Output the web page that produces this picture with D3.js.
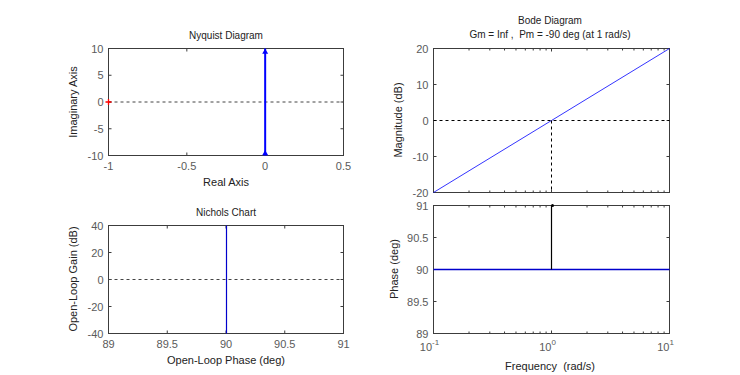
<!DOCTYPE html>
<html>
<head>
<meta charset="utf-8">
<script src="https://cdn.jsdelivr.net/npm/d3@7"></script>
<style>
body { margin: 0; background: #fff; }
text { font-family: "Liberation Sans", Arial, sans-serif; white-space: pre; }
</style>
</head>
<body>
<div id="chart"></div>
<script>
var W = 740, H = 375;

// data (G(s) = s)
var freq = [0.1, 0.2, 0.5, 1, 2, 5, 10];
var magDb = [-20, -13.98, -6.02, 0, 6.02, 13.98, 20];
var phaseDeg = [90, 90, 90, 90, 90, 90, 90];
var nyqRe = [0, 0, 0, 0, 0];
var nyqIm = [-10, -5, 0, 5, 10];
var nicPhase = [90, 90];
var nicGain = [-40, 40];
var crossFreq = 1, pmTop = 91;

var nyqXTicks = [-1, -0.5, 0, 0.5], nyqYTicks = [-10, -5, 0, 5, 10];
var nicXTicks = [89, 89.5, 90, 90.5, 91], nicYTicks = [-40, -20, 0, 20, 40];
var magTicks = [-20, -10, 0, 10, 20], phTicks = [89, 89.5, 90, 90.5, 91];

var blue = "#0000ff", axc = "#3c3c3c", tickc = "#5a5a5a";

var svg = d3.select("#chart").append("svg")
	.attr("width", W).attr("height", H);

function panel(x, y, xt, yt, opt) {
	var g = svg.append("g");
	var x0 = x.range()[0], x1 = x.range()[1], y0 = y.range()[0], y1 = y.range()[1];
	var tl = 3;
	// ticks inside, all four sides
	xt.forEach(function(t){
		g.append("line").attr("x1", x(t)).attr("x2", x(t)).attr("y1", y0).attr("y2", y0 - tl).attr("stroke", axc);
		g.append("line").attr("x1", x(t)).attr("x2", x(t)).attr("y1", y1).attr("y2", y1 + tl).attr("stroke", axc);
	});
	yt.forEach(function(t){
		g.append("line").attr("x1", x0).attr("x2", x0 + tl).attr("y1", y(t)).attr("y2", y(t)).attr("stroke", axc);
		g.append("line").attr("x1", x1).attr("x2", x1 - tl).attr("y1", y(t)).attr("y2", y(t)).attr("stroke", axc);
	});
	if (opt.minor) {
		opt.minor.forEach(function(t){
			g.append("line").attr("x1", x(t)).attr("x2", x(t)).attr("y1", y0).attr("y2", y0 - 2).attr("stroke", axc);
			g.append("line").attr("x1", x(t)).attr("x2", x(t)).attr("y1", y1).attr("y2", y1 + 2).attr("stroke", axc);
		});
	}
	g.append("rect").attr("x", x0).attr("y", y1).attr("width", x1 - x0).attr("height", y0 - y1)
		.attr("fill", "none").attr("stroke", axc).attr("stroke-width", 1);
	yt.forEach(function(t){
		g.append("text").attr("x", x0 - 5).attr("y", y(t) + 4).attr("text-anchor", "end")
			.attr("font-size", "11px").attr("fill", tickc).text(t);
	});
	if (opt.xlabels !== false) {
		xt.forEach(function(t){
			g.append("text").attr("x", x(t)).attr("y", y0 + 14).attr("text-anchor", "middle")
				.attr("font-size", "11px").attr("fill", tickc).text(t);
		});
	}
	return g;
}

function axisLabel(txt, x, y, rot) {
	svg.append("text").attr("transform", "translate(" + x + "," + y + ")" + (rot ? " rotate(-90)" : ""))
		.attr("text-anchor", "middle").attr("font-size", "11px").attr("fill", "#222").text(txt);
}
function title(txt, x, y) {
	svg.append("text").attr("x", x).attr("y", y).attr("text-anchor", "middle")
		.attr("font-size", "10px").attr("fill", "#222").text(txt);
}

// ---------- Nyquist ----------
var nx = d3.scaleLinear().domain([-1, 0.5]).range([108.5, 343.5]);
var ny = d3.scaleLinear().domain([-10, 10]).range([155.5, 48.5]);
panel(nx, ny, nyqXTicks, nyqYTicks, {});
svg.append("line").attr("x1", nx(-1)).attr("x2", nx(0.5)).attr("y1", ny(0)).attr("y2", ny(0))
	.attr("stroke", "#444").attr("stroke-dasharray", "3,3");
svg.append("path").datum(d3.zip(nyqRe, nyqIm))
	.attr("d", d3.line().x(function(d){ return nx(d[0]); }).y(function(d){ return ny(d[1]); }))
	.attr("stroke", blue).attr("stroke-width", 2).attr("fill", "none");
// arrows
var ax = nx(0), ayT = ny(9.4), ayB = ny(-9.6);
svg.append("path").attr("d", "M" + (ax - 3) + "," + (ayT + 2) + "L" + ax + "," + (ayT - 3) + "L" + (ax + 3) + "," + (ayT + 2) + "Z").attr("fill", blue);
svg.append("path").attr("d", "M" + (ax - 3) + "," + (ayB + 2) + "L" + ax + "," + (ayB - 3) + "L" + (ax + 3) + "," + (ayB + 2) + "Z").attr("fill", blue);
// critical point
svg.append("path").attr("d", "M" + (nx(-1) - 3) + "," + ny(0) + "h6M" + nx(-1) + "," + (ny(0) - 3) + "v6")
	.attr("stroke", "red").attr("stroke-width", 1.3);
title("Nyquist Diagram", 226, 39);
axisLabel("Real Axis", 226, 186, false);
axisLabel("Imaginary Axis", 77, 102, true);

// ---------- Nichols ----------
var cx = d3.scaleLinear().domain([89, 91]).range([108.5, 343.5]);
var cy = d3.scaleLinear().domain([-40, 40]).range([333.5, 225.5]);
panel(cx, cy, nicXTicks, nicYTicks, {});
svg.append("line").attr("x1", cx(89)).attr("x2", cx(91)).attr("y1", cy(0)).attr("y2", cy(0))
	.attr("stroke", "#444").attr("stroke-dasharray", "3,3");
svg.append("path").datum(d3.zip(nicPhase, nicGain))
	.attr("d", d3.line().x(function(d){ return Math.round(cx(d[0]) - 0.5) + 0.5; }).y(function(d){ return cy(d[1]); }))
	.attr("stroke", "#0000cc").attr("stroke-width", 1.2).attr("fill", "none");
title("Nichols Chart", 226, 216);
axisLabel("Open-Loop Phase (deg)", 226, 364, false);
axisLabel("Open-Loop Gain (dB)", 77, 279, true);

// ---------- Bode ----------
var bx = d3.scaleLog().domain([0.1, 10]).range([433.5, 669.5]);
var my = d3.scaleLinear().domain([-20, 20]).range([192.5, 48.5]);
var py = d3.scaleLinear().domain([89, 91]).range([333.5, 205.5]);
var minor = [];
[0.1, 1].forEach(function(dec){ for (var k = 2; k <= 9; k++) minor.push(dec * k); });
panel(bx, my, [0.1, 1, 10], magTicks, { minor: minor, xlabels: false });
panel(bx, py, [0.1, 1, 10], phTicks, { minor: minor, xlabels: false });

svg.append("path").datum(d3.zip(freq, magDb))
	.attr("d", d3.line().x(function(d){ return bx(d[0]); }).y(function(d){ return my(d[1]); }))
	.attr("stroke", blue).attr("stroke-width", 0.8).attr("fill", "none");
svg.append("line").attr("x1", bx(0.1)).attr("x2", bx(10)).attr("y1", my(0)).attr("y2", my(0))
	.attr("stroke", "#000").attr("stroke-dasharray", "3,3");
svg.append("line").attr("x1", bx(crossFreq)).attr("x2", bx(crossFreq)).attr("y1", my(0)).attr("y2", my(-20))
	.attr("stroke", "#000").attr("stroke-dasharray", "3,3");

svg.append("path").datum(d3.zip(freq, phaseDeg))
	.attr("d", d3.line().x(function(d){ return bx(d[0]); }).y(function(d){ return py(d[1]); }))
	.attr("stroke", "#0000cc").attr("stroke-width", 1.3).attr("fill", "none");
svg.append("line").attr("x1", bx(crossFreq)).attr("x2", bx(crossFreq)).attr("y1", py(90)).attr("y2", py(pmTop))
	.attr("stroke", "#000").attr("stroke-width", 1.2);
svg.append("circle").attr("cx", bx(crossFreq) + 1).attr("cy", py(pmTop)).attr("r", 1.5).attr("fill", "#000");

[0.1, 1, 10].forEach(function(t){
	var e = Math.round(Math.log10(t));
	var tx = svg.append("text").attr("x", bx(t) - 4).attr("y", 351).attr("text-anchor", "middle")
		.attr("font-size", "11px").attr("fill", tickc);
	tx.append("tspan").text("10");
	tx.append("tspan").attr("dy", -6).attr("font-size", "8px").text(e);
});

title("Bode Diagram", 550, 24);
title("Gm = Inf ,  Pm = -90 deg (at 1 rad/s)", 550, 38);
axisLabel("Frequency  (rad/s)", 550, 370, false);
axisLabel("Magnitude (dB)", 402, 120, true);
axisLabel("Phase (deg)", 398, 269, true);
</script>
</body>
</html>
